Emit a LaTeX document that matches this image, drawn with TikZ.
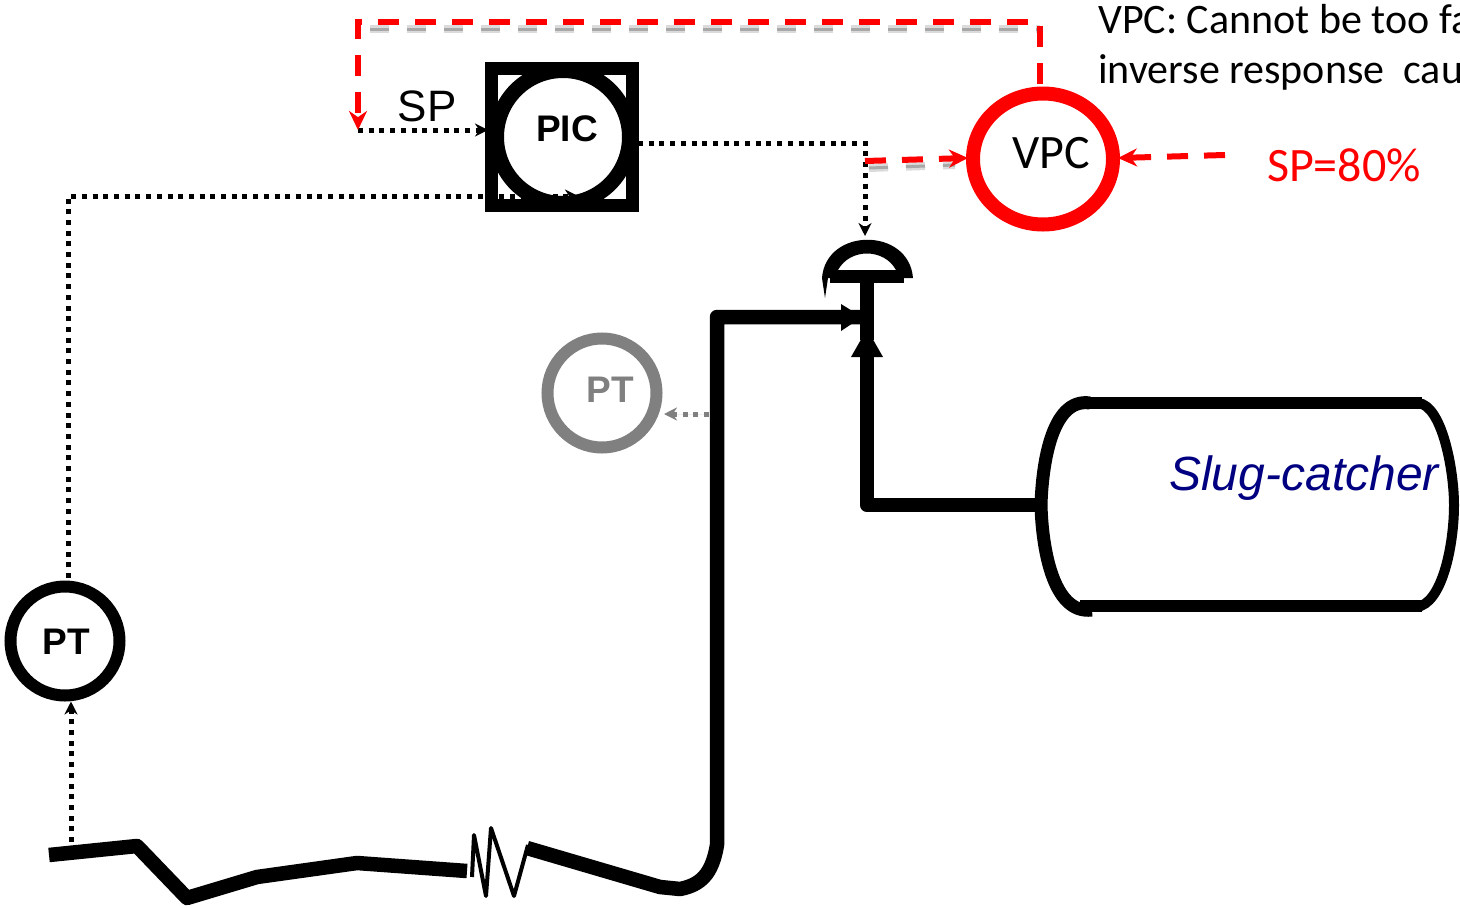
\documentclass[tikz,border=0pt]{standalone}
\usepackage{fontspec}
\setmainfont{Liberation Sans}
\newfontfamily\noteFont{Carlito}
\usetikzlibrary{arrows.meta, shapes.geometric}

\begin{document}
\begin{tikzpicture}[x=1pt, y=-1pt,
    ring/.style={draw=black, fill=white, circle, line width=12pt, minimum size=109pt, inner sep=0pt},
    tag/.style={font=\fontsize{37}{44}\selectfont\bfseries, inner sep=0pt},
    pipe/.style={line width=14.5pt, line join=round},
    signal/.style={line width=5pt, dash pattern=on 5pt off 5.7pt, -{Stealth[length=13pt, width=13pt]}},
    setline/.style={red, line width=6pt, dash pattern=on 21pt off 16pt, -{Stealth[length=19pt, width=18pt]}},
    blur/.style={draw=black!14, line width=2.5pt, double=black!34, double distance=3pt, dash pattern=on 19pt off 18pt},
    note/.style={font=\fontsize{42}{50}\noteFont, anchor=west, inner sep=0pt}]
  \definecolor{slugblue}{RGB}{0,0,128}
  \useasboundingbox (0,0) rectangle (1460,908);
  \clip (0,0) rectangle (1460,908);

  % shadows of the red lines
  \draw[blur, dash phase=15pt] (1040,29) -- (365,29);
  \draw[blur] (869,168) -- (955,165);

  % controllers and transmitters
  \node[draw=black, fill=white, line width=13pt, minimum width=141pt, minimum height=137pt, inner sep=0pt] (picbox) at (562,137) {};
  \node[ring, line width=15pt, minimum size=133pt] (pic) at (563,137) {};
  \node[tag] (piclabel) at (567,129) {PIC};
  \node[ring] (ptleft) at (65,641) {};
  \node[tag] (ptleftlabel) at (66,642) {PT};
  \node[ring, draw=black!50] (ptgrey) at (602,393) {};
  \node[tag, text=black!50] (ptgreylabel) at (610,390) {PT};
  \node[draw=red, fill=white, ellipse, line width=14pt, minimum width=140pt, minimum height=131pt, inner sep=0pt] (vpc) at (1043,159) {};
  \node[font=\fontsize{48}{54}\noteFont, inner sep=0pt] (vpclabel) at (1051,153) {VPC};

  % valve
  \fill[even odd rule] (822,278) .. controls (826,227) and (909,227) .. (913,278) -- cycle
    (838,270) .. controls (850,248) and (884,248) .. (896,270) -- cycle;
  \fill (830,270) rectangle (904,283);
  \fill (822,278) -- (828,278) -- (825,298) -- cycle;
  \fill (860,283) rectangle (874,340);
  \coordinate (valveleft) at (862,317);
  \coordinate (valvebottom) at (867,329);

  % slug-catcher
  \coordinate (tankwest) at (1041,505);
  \draw[line width=12pt] (1085,403) -- (1422,403);
  \draw[line width=12pt] (1080,606) -- (1422,606);
  \draw[line width=13pt] (1090,403) .. controls (1050,397) and (1042,470) .. (tankwest)
    .. controls (1042,545) and (1052,615) .. (1092,610);
  \draw[line width=10pt] (1418,403) .. controls (1442,405) and (1454,470) .. (1454,505)
    .. controls (1454,545) and (1442,605) .. (1416,607);
  \node[font=\fontsize{48}{54}\selectfont\itshape, text=slugblue, inner sep=0pt] (slug) at (1304,478) {Slug-catcher};

  % process lines
  \coordinate (pipestart) at (49,855);
  \coordinate (pipeknee) at (717,317);
  \draw[pipe] (pipestart) -- (137,846) -- (187,898) -- (257,877) -- (357,863) -- (467,871);
  \draw[line width=4pt, line join=round] (472,877) -- (474,835) -- (486,896) -- (491,828) -- (514,896) -- (528,845);
  \draw[pipe] (527,848) -- (660,887) -- (680,889) .. controls (700,885) and (712,875) .. (717,845) -- (pipeknee)
    -- (valveleft);
  \fill (valveleft) -- (841,304) -- (841,331) -- cycle;
  \draw[pipe] (tankwest) -- (867,505) -- (867,350);
  \fill (valvebottom) -- (851,357) -- (883,357) -- cycle;

  % signal lines
  \coordinate (ptlefttap) at (71,842);
  \coordinate (spcorner) at (358,130);
  \coordinate (ptgreytap) at (709,414);
  \draw[signal] (ptlefttap) -- (ptleft.south -| ptlefttap);
  \draw[signal] (68,578) -- (68,196) -- (578,196);
  \draw[signal] (spcorner) -- (488,130);
  \draw[signal] (638,143) -- (865,143) -- (865,236);
  \draw[signal, draw=black!50, fill=black!50] (ptgreytap) -- (664,414);

  % red lines
  \coordinate (sptip) at (1225,155);
  \draw[setline, dash phase=33pt] (1040,88) -- (1040,22) -- (358,22) -- (spcorner);
  \draw[setline] (865,161) -- (968,158);
  \draw[setline] (sptip) -- (1118,158);

  % labels
  \node[font=\fontsize{44}{50}\selectfont, inner sep=0pt] (splabel) at (427,106) {SP};
  \node[font=\fontsize{48}{54}\noteFont, text=red, inner sep=0pt] (spvalue) at (1344,165) {SP=80\%};
  \node[note] (notefirst) at (1098,19) {VPC: Cannot be too fa};
  \node[note] (notesecond) at (1098,72) {inverse response\ \ cau};
\end{tikzpicture}
\end{document}
